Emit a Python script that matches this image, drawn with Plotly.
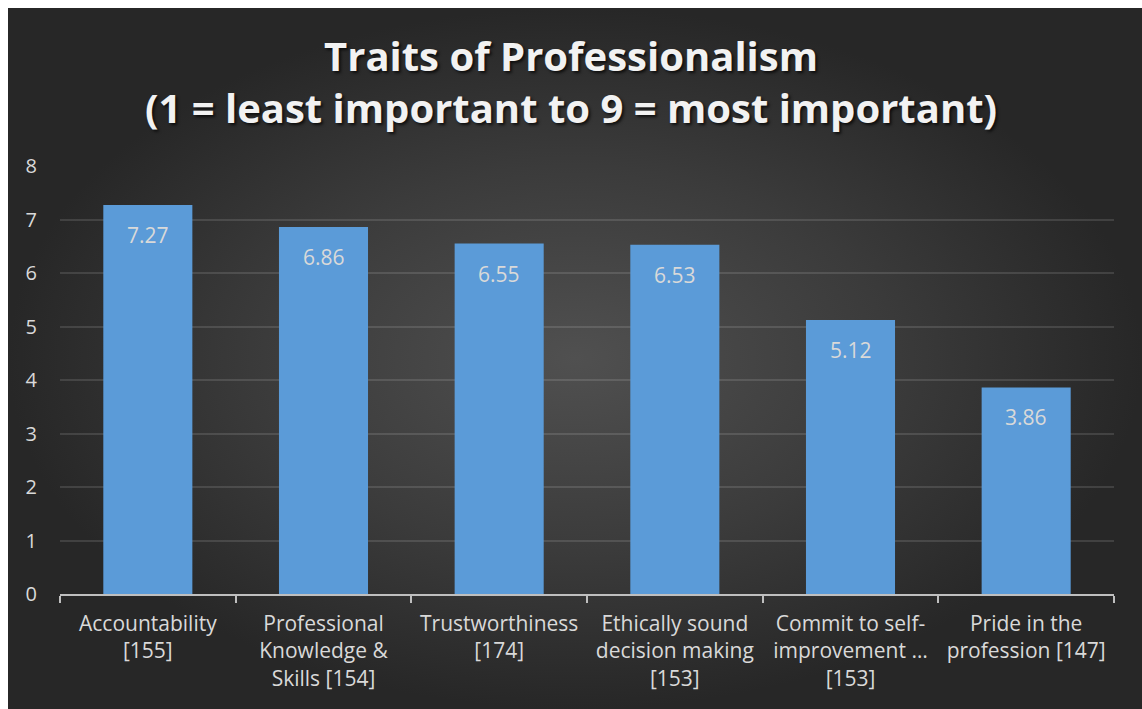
import plotly.graph_objects as go

# Survey results: mean importance rating per trait, with respondent counts
traits = [
    "Accountability<br>[155]",
    "Professional<br>Knowledge &<br>Skills [154]",
    "Trustworthiness<br>[174]",
    "Ethically sound<br>decision making<br>[153]",
    "Commit to self-<br>improvement …<br>[153]",
    "Pride in the<br>profession [147]",
]
mean_scores = [7.27, 6.86, 6.55, 6.53, 5.12, 3.86]
y_ticks = [0, 1, 2, 3, 4, 5, 6, 7, 8]

W, H = 1142, 709
FONT = "Open Sans"
LABEL_COLOR = "#d9d9d9"

fig = go.Figure()

# Dark radial-gradient backdrop filling the chart area
fig.add_trace(go.Scatter(
    x=[0, 1, 1, 0, 0], y=[0, 0, 1, 1, 0],
    xaxis="x", yaxis="y",
    mode="lines", line=dict(width=0),
    fill="toself",
    fillgradient=dict(type="radial",
                      colorscale=[[0, "#505050"], [0.55, "#3b3b3b"], [1, "#272727"]]),
    hoverinfo="skip", showlegend=False,
))

# Bars
fig.add_trace(go.Bar(
    x=traits, y=mean_scores,
    xaxis="x2", yaxis="y2",
    width=0.507,
    marker=dict(color="#5b9bd8", line=dict(width=0)),
    hoverinfo="x+y", showlegend=False,
))

# Value labels just inside the top of each bar
for t, v in zip(traits, mean_scores):
    fig.add_annotation(
        x=t, y=v, xref="x2", yref="y2",
        text=f"{v:.2f}", showarrow=False,
        yanchor="middle", yshift=-30,
        font=dict(family=FONT, size=21, color=LABEL_COLOR),
    )

fig.update_layout(
    width=W, height=H,
    margin=dict(l=0, r=0, t=0, b=0),
    paper_bgcolor="white",
    plot_bgcolor="rgba(0,0,0,0)",
    title=dict(
        text="<b>Traits of Professionalism<br>(1 = least important to 9 = most important)</b>",
        x=0.5, xanchor="center", xref="paper",
        y=1 - 71 / H, yanchor="middle", yref="paper",
        font=dict(family=FONT, size=40, color="#f2f2f2",
                  shadow="2px 2px 3px rgba(0,0,0,0.7)"),
    ),
    xaxis=dict(domain=[8 / W, 1], range=[0, 1], visible=False, fixedrange=True),
    yaxis=dict(domain=[0, 1 - 8 / H], range=[0, 1], visible=False, fixedrange=True),
    xaxis2=dict(
        domain=[60 / W, 1114 / W], anchor="y2",
        type="category", range=[-0.5, 5.5],
        showgrid=False, zeroline=False,
        showline=True, linecolor="#bfbfbf", linewidth=1.5,
        ticks="outside", tickson="boundaries", ticklen=7,
        tickcolor="#bfbfbf", tickwidth=1.5,
        ticklabelstandoff=10,
        tickfont=dict(family=FONT, size=21, color=LABEL_COLOR),
        automargin=False,
    ),
    yaxis2=dict(
        domain=[115 / H, 543 / H], anchor="x2",
        range=[0, 8], tickvals=y_ticks,
        showgrid=True, gridcolor="rgba(255,255,255,0.12)", gridwidth=1.5,
        zeroline=False, showline=False, ticks="",
        ticklabelstandoff=22,
        tickfont=dict(family=FONT, size=20, color=LABEL_COLOR),
        automargin=False,
    ),
)

fig.write_html("out.html")
